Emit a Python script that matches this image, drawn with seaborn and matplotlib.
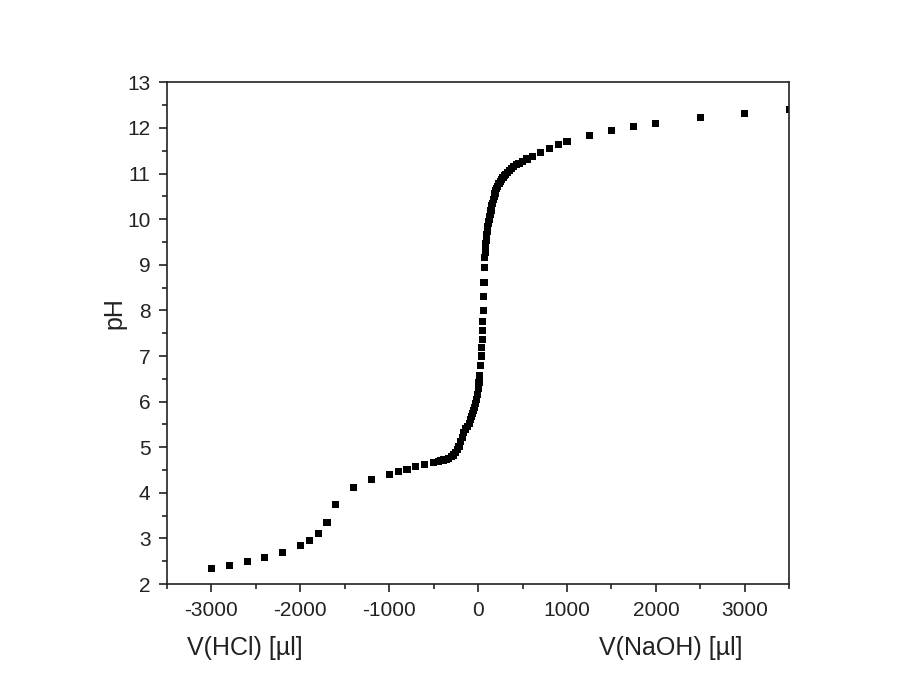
import matplotlib
matplotlib.use("Agg")
import matplotlib.pyplot as plt
import seaborn as sns
import pandas as pd
from matplotlib.ticker import MultipleLocator

# Titration data: volume (negative = HCl, positive = NaOH) in µl, and pH
volume = [-3000, -2800, -2600, -2400, -2200, -2000, -1900, -1800, -1700, -1600,
          -1400, -1200, -1000, -900, -800, -700, -600, -500, -450, -420, -390,
          -360, -330, -300, -275, -250, -235, -215, -195, -175, -160, -140,
          -115, -100, -85, -70, -60, -50, -40, -30, -20, -10, 0, 10, 20, 28,
          35, 40, 45, 50, 54, 58, 62, 66, 70, 74, 78, 82, 86, 90, 94, 98, 102,
          106, 110, 115, 120, 125, 130, 135, 140, 145, 150, 155, 160, 170, 180,
          190, 200, 210, 220, 235, 250, 265, 280, 295, 310, 330, 350, 375, 400,
          430, 460, 500, 550, 610, 700, 800, 900, 1000, 1250, 1500, 1750, 2000,
          2500, 3000, 3500]
ph = [2.35, 2.41, 2.49, 2.58, 2.69, 2.85, 2.96, 3.10, 3.34, 3.74,
      4.12, 4.30, 4.41, 4.47, 4.51, 4.57, 4.63, 4.66, 4.68, 4.70, 4.72,
      4.74, 4.76, 4.79, 4.83, 4.88, 4.94, 5.02, 5.12, 5.22, 5.32, 5.40,
      5.45, 5.52, 5.60, 5.67, 5.73, 5.80, 5.88, 5.96, 6.05, 6.16, 6.28, 6.42, 6.58, 6.80,
      7.00, 7.18, 7.36, 7.55, 7.75, 8.00, 8.30, 8.62, 8.95, 9.15, 9.28, 9.38, 9.46, 9.54, 9.61, 9.67, 9.73,
      9.79, 9.84, 9.90, 9.95, 10.00, 10.05, 10.10, 10.15, 10.20, 10.25, 10.30, 10.35, 10.43, 10.50,
      10.57, 10.63, 10.68, 10.72, 10.78, 10.83, 10.88, 10.92, 10.96, 10.99, 11.03, 11.07, 11.11, 11.15,
      11.19, 11.23, 11.27, 11.32, 11.38, 11.47, 11.56, 11.64, 11.71, 11.83, 11.94, 12.03, 12.10,
      12.22, 12.31, 12.40]

x_ticks = [-3000, -2000, -1000, 0, 1000, 2000, 3000]
y_ticks = [2, 3, 4, 5, 6, 7, 8, 9, 10, 11, 12, 13]

df = pd.DataFrame({"volume": volume, "pH": ph})

sns.set_theme(style="ticks")
plt.rcParams['font.family'] = ['Liberation Sans', 'DejaVu Sans']

fig = plt.figure(figsize=(9.03, 6.90), dpi=100)
fig.patch.set_facecolor("white")
ax = fig.add_axes([0.185, 0.1536, 0.689, 0.727])

sns.scatterplot(data=df, x="volume", y="pH", marker="s", color="black",
                s=26, edgecolor="none", linewidth=0, ax=ax, legend=False,
                clip_on=True)

ax.set_xlim(-3500, 3500)
ax.set_ylim(2, 13)
ax.set_xticks(x_ticks)
ax.set_yticks(y_ticks)
ax.set_xticklabels([str(t) for t in x_ticks])
ax.set_yticklabels([str(t) for t in y_ticks])
ax.xaxis.set_minor_locator(MultipleLocator(500))
ax.yaxis.set_minor_locator(MultipleLocator(0.5))
ax.tick_params(axis="both", which="major", direction="out", length=6, width=1.2,
               labelsize=15, color="#222222", labelcolor="#222222", pad=6)
ax.tick_params(axis="both", which="minor", direction="out", length=3.5, width=1.2,
               color="#222222")
ax.tick_params(top=False, right=False, which="both")
for sp in ax.spines.values():
    sp.set_visible(True)
    sp.set_linewidth(1.2)
    sp.set_color("#222222")

ax.set_xlabel("")
ax.set_ylabel("")

fig.text(114 / 903, 1 - 313 / 690, "pH", fontsize=18, color="#222222",
         rotation=90, ha="center", va="center")
fig.text(187 / 903, 1 - 648 / 690, "V(HCl) [µl]", fontsize=18, color="#222222",
         ha="left", va="center")
fig.text(671 / 903, 1 - 648 / 690, "V(NaOH) [µl]", fontsize=18, color="#222222",
         ha="center", va="center")

fig.savefig("out.png", dpi=100, facecolor="white")
